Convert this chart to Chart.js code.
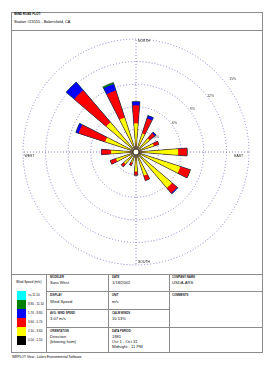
<!DOCTYPE html>
<html><head><meta charset="utf-8">
<script src="https://cdn.jsdelivr.net/npm/chart.js@4.4.1/dist/chart.umd.min.js"></script>
<style>
html,body{margin:0;padding:0;background:#fff;}
body{width:269px;height:366px;position:relative;overflow:hidden;font-family:"Liberation Sans",Arial,sans-serif;color:#000;}
.hl{position:absolute;height:1px;background:#8c8c8c;}
.vl{position:absolute;width:1px;background:#8c8c8c;}
.t{position:absolute;white-space:nowrap;transform:translateY(-50%);}
.lab{font-size:2.8px;line-height:3px;font-weight:bold;color:#222;}
.val{font-size:4.1px;line-height:4.5px;color:#111;}
.sm{font-size:3.2px;line-height:3.2px;}
.box{position:absolute;left:17px;width:8.5px;height:9px;}
#wrap{position:absolute;left:0;top:0;width:269px;height:366px;}
</style></head><body>
<div class="vl" style="left:11px;top:12px;height:341px"></div>
<div class="vl" style="left:262px;top:12px;height:341px"></div>
<div class="hl" style="left:11px;top:12px;width:252px"></div>
<div class="hl" style="left:11px;top:30px;width:252px"></div>
<div class="hl" style="left:11px;top:274px;width:252px"></div>
<div class="hl" style="left:11px;top:352px;width:252px"></div>
<div class="vl" style="left:46px;top:274px;height:78px"></div>
<div class="vl" style="left:108px;top:274px;height:78px"></div>
<div class="vl" style="left:169px;top:274px;height:78px"></div>
<div class="hl" style="left:46px;top:291px;width:216px"></div>
<div class="hl" style="left:46px;top:309px;width:123px"></div>
<div class="hl" style="left:46px;top:327px;width:216px"></div>

<div class="t sm" style="left:14px;top:14.5px;font-weight:bold;font-size:3px">WIND ROSE PLOT:</div>
<div class="t" style="left:14px;top:22px;font-size:3.9px;line-height:4.5px">Station #23155 - Bakersfield, CA</div>

<div class="t lab" style="left:50px;top:276.7px">MODELER</div>
<div class="t val" style="left:50px;top:283.3px">Sara West</div>
<div class="t lab" style="left:50px;top:295px">DISPLAY</div>
<div class="t val" style="left:50px;top:301.7px">Wind Speed</div>
<div class="t lab" style="left:50px;top:313.3px">AVG. WIND SPEED</div>
<div class="t val" style="left:50px;top:319.3px">3.07 m/s</div>
<div class="t lab" style="left:50px;top:331px">ORIENTATION</div>
<div class="t val" style="left:50px;top:336.7px">Direction</div>
<div class="t val" style="left:50px;top:341.7px">(blowing from)</div>

<div class="t lab" style="left:112px;top:276.7px">DATE</div>
<div class="t val" style="left:112px;top:283.3px">1/18/2002</div>
<div class="t lab" style="left:112px;top:295px">UNIT</div>
<div class="t val" style="left:112px;top:301.7px">m/s</div>
<div class="t lab" style="left:112px;top:313.3px">CALM WINDS</div>
<div class="t val" style="left:112px;top:319.3px" id="calm"></div>
<div class="t lab" style="left:112px;top:331px">DATA PERIOD</div>
<div class="t val" style="left:112px;top:336.7px">1981</div>
<div class="t val" style="left:112px;top:341.7px">Oct 1 - Oct 31</div>
<div class="t val" style="left:112px;top:346.7px">Midnight - 11 PM</div>

<div class="t lab" style="left:172px;top:276.7px">COMPANY NAME</div>
<div class="t val" style="left:172px;top:283.3px">USDA-ARS</div>
<div class="t lab" style="left:172px;top:295px">COMMENTS</div>

<div class="t sm" style="left:16px;top:282.7px">Wind Speed (m/s)</div>
<div id="legend"></div>

<div class="t" style="left:12px;top:357.5px;font-size:3.3px;line-height:3.5px">WRPLOT View - Lakes Environmental Software</div>

<div id="wrap"><canvas id="c" width="269" height="366"></canvas></div>
<script>
// ---- data (percent of total hours, per direction the wind blows from) ----
const directions = ['N','NNE','NE','ENE','E','ESE','SE','SSE','S','SSW','SW','WSW','W','WNW','NW','NNW'];
const speedClasses = ['0.50 - 2.10','2.10 - 3.60','3.60 - 5.70','5.70 - 8.80','8.80 - 11.10','>= 11.10'];
const freq_050_210 = [0.4, 0.4, 0.4, 0.4, 0.5, 0.6, 0.6, 0.4, 0.4, 0.3, 0.4, 0.4, 0.5, 0.4, 0.5, 0.4];
const freq_210_360 = [3.4, 2.2, 2.0, 2.1, 5.1, 5.6, 5.7, 2.9, 2.2, 1.2, 1.7, 2.4, 2.8, 3.9, 4.7, 4.4];
const freq_360_570 = [2.4, 2.1, 0.9, 0.7, 1.2, 1.4, 0.9, 0.7, 0.5, 0.4, 0.5, 0.8, 1.3, 3.7, 5.6, 3.8];
const freq_570_880 = [0.5, 0.4, 0.2, 0.0, 0.0, 0.0, 0.1, 0.0, 0.0, 0.0, 0.0, 0.0, 0.0, 0.4, 1.4, 0.9];
const freq_880_1110 = [0.0, 0.0, 0.0, 0.0, 0.0, 0.0, 0.0, 0.0, 0.0, 0.0, 0.0, 0.0, 0.0, 0.0, 0.0, 0.2];
const freq_ge_1110 = [0.0, 0.0, 0.0, 0.0, 0.0, 0.0, 0.0, 0.0, 0.0, 0.0, 0.0, 0.0, 0.0, 0.0, 0.0, 0.0];
const ringTicks = [3, 6, 9, 12, 15];
const ringLabels = ['3%', '6%', '9%', '12%', '15%'];
const compassLabels = ['NORTH', 'EAST', 'SOUTH', 'WEST'];
const calmWinds = '10.53%';

// ---- styles ----
const classColors = ['#000000', '#ffff00', '#ff0000', '#0000ff', '#008000', '#00ffff'];
const gridColor = '#8282cc';

document.getElementById('calm').textContent = calmWinds;
const leg = document.getElementById('legend');
for (let i = 5; i >= 0; i--) {
  const row = 5 - i;
  const top = 290.7 + 9 * row;
  const b = document.createElement('div');
  b.className = 'box'; b.style.top = top + 'px'; b.style.background = classColors[i];
  leg.appendChild(b);
  const l = document.createElement('div');
  l.className = 't'; l.style.left = '28px'; l.style.top = (top + 4.5) + 'px';
  l.style.fontSize = '3px'; l.style.lineHeight = '3px';
  l.textContent = speedClasses[i];
  leg.appendChild(l);
}

const classes = [freq_050_210, freq_210_360, freq_360_570, freq_570_880, freq_880_1110, freq_ge_1110];
const BAR_W = 9;                       // degrees per petal
const GAPS = 4;                        // gap slices between petals
const GAP_W = (360 / directions.length - BAR_W) / GAPS;
const PER = GAPS + 1;
const labels = [], angles = [];
directions.forEach(d => {
  labels.push(d); angles.push(BAR_W);
  for (let k = 0; k < GAPS; k++) { labels.push(''); angles.push(GAP_W); }
});
function expand(arr) {
  const out = [];
  arr.forEach(v => { out.push(v); for (let k = 0; k < GAPS; k++) out.push(0); });
  return out;
}
const cum = [];
let run = directions.map(() => 0);
classes.forEach(c => { run = run.map((v, i) => +(v + c[i]).toFixed(3)); cum.push(run.slice()); });
const total = cum[cum.length - 1];
const angleFn = ctx => angles[ctx.dataIndex];

const datasets = [{
  label: 'outline', data: expand(total), backgroundColor: 'rgba(0,0,0,0)',
  borderColor: '#333', borderWidth: ctx => (ctx.raw > 0 ? 0.6 : 0), angle: angleFn
}];
for (let i = 0; i < classes.length; i++) {
  datasets.push({ label: speedClasses[i], data: expand(cum[i]), backgroundColor: classColors[i], borderWidth: 0, angle: angleFn });
}

const extras = {
  id: 'extras',
  afterDatasetsDraw(chart) {
    const s = chart.scales.r, ctx = chart.ctx;
    const xc = s.xCenter, yc = s.yCenter, R = s.getDistanceFromCenterForValue(s.max);
    ctx.save();
    ctx.beginPath(); ctx.arc(xc, yc, 3, 0, Math.PI * 2);
    ctx.fillStyle = '#fff'; ctx.fill(); ctx.lineWidth = 0.8; ctx.strokeStyle = '#222'; ctx.stroke();
    ctx.fillStyle = '#333'; ctx.font = '3.4px "Liberation Sans", Arial, sans-serif';
    ctx.textAlign = 'center'; ctx.textBaseline = 'middle';
    const a = 53 * Math.PI / 180;
    ringTicks.forEach((v, i) => {
      const r = s.getDistanceFromCenterForValue(v) + 3 + (i === ringTicks.length - 1 ? 5 : 0);
      ctx.fillText(ringLabels[i], xc + r * Math.sin(a), yc - r * Math.cos(a));
    });
    ctx.fillStyle = '#111';
    ctx.textAlign = 'left';
    ctx.fillText(compassLabels[0], xc + 2, yc - R + 1.8);
    ctx.fillText(compassLabels[2], xc + 2, yc + R - 3);
    ctx.fillText(compassLabels[3], xc - R + 1.5, yc + 3.7);
    ctx.textAlign = 'right';
    ctx.fillText(compassLabels[1], xc + R - 6, yc + 3.7);
    ctx.restore();
  }
};

new Chart(document.getElementById('c'), {
  type: 'polarArea',
  data: { labels: labels, datasets: datasets },
  plugins: [extras],
  options: {
    responsive: false, animation: false, events: [],
    layout: { padding: { left: 23, top: 39, right: 19, bottom: 100 } },
    plugins: { legend: { display: false }, tooltip: { enabled: false } },
    scales: {
      r: {
        min: 0, max: ringTicks[ringTicks.length - 1],
        startAngle: -BAR_W / 2,
        ticks: { display: false, stepSize: ringTicks[0] },
        grid: { circular: true, color: gridColor, lineWidth: 1 },
        border: { dash: [1, 2] },
        angleLines: { display: true, color: gridColor, borderDash: [1, 2],
          lineWidth: ctx => (ctx.index % (PER * 4) === 1 ? 1 : 0) },
        pointLabels: { display: false }
      }
    }
  }
});
</script>
</body></html>
